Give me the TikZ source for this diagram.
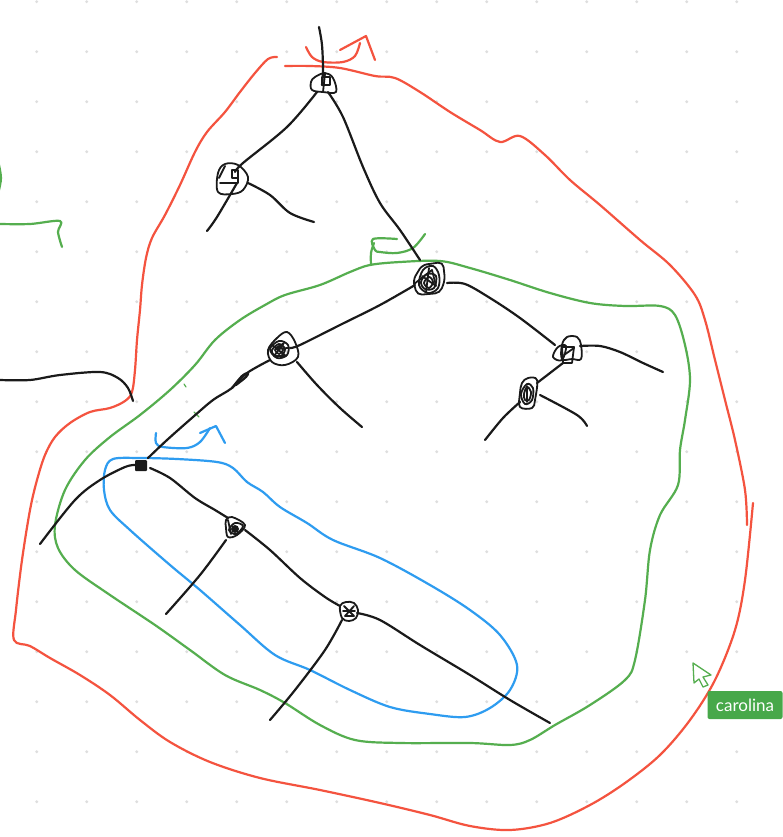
\documentclass[tikz,border=0pt]{standalone}
\usepackage{fontspec}
\setmainfont{Lato}
\definecolor{penred}{HTML}{F4533F}
\definecolor{pengreen}{HTML}{55AE4F}
\definecolor{penblue}{HTML}{2E9CF0}
\definecolor{penblack}{HTML}{1A1A1A}
\definecolor{griddot}{HTML}{DEDEDE}
\definecolor{tagbg}{HTML}{47A84A}
\tikzset{
  stroke/.style={line width=2.2pt,line cap=round,line join=round},
  ink/.style={stroke,draw=penblack},
  redpen/.style={stroke,draw=penred},
  greenpen/.style={stroke,draw=pengreen},
  bluepen/.style={stroke,draw=penblue},
  knot/.style={ink,line width=1.8pt},
  tag/.style={fill=tagbg,rounded corners=2pt,text=white,inner sep=0pt,minimum width=75pt,minimum height=28pt,font=\fontsize{17}{17}\selectfont},
}
\newcommand{\pen}[2]{\draw[#1] plot[smooth,tension=0.55] coordinates {#2};}
\newcommand{\loopc}[1]{\draw[knot] plot[smooth cycle,tension=0.6] coordinates {#1};}
\newcommand{\poly}[1]{\draw[knot] plot[sharp plot] coordinates {#1};}
\begin{document}
\begin{tikzpicture}[x=1pt,y=-1pt]
\useasboundingbox (0,0) rectangle (782,837);
\fill[white] (0,0) rectangle (782,837);
% dot grid
\foreach \i in {0,...,15}{\foreach \j in {0,...,16}{
  \fill[griddot] ({36.7+50*\i},{1.7+50*\j}) circle (1.6pt);
}}
% red outline
\pen{redpen}{(277,57)(268,59)(255,73)(240,92)(225,112)(207,132)(195,152)(180,185)(165,215)(152,238)(146,258)(142,285)(140,310)(137,340)(135,370)(132,392)(125,401)(110,408)(90,412)(70,423)(55,437)(45,455)(37,480)(30,510)(22,560)(16,610)(14,640)(30,646)(50,658)(80,675)(110,695)(140,720)(170,742)(210,762)(260,778)(320,790)(380,803)(430,815)(470,826)(510,830)(550,823)(590,805)(625,783)(660,755)(690,720)(715,680)(735,630)(745,580)(753,503)}
\pen{redpen}{(285,66)(310,66)(340,68)(375,76)(395,78)(420,92)(450,112)(480,130)(500,142)(520,136)(545,155)(570,180)(600,205)(640,240)(670,265)(695,295)(705,320)(715,360)(725,400)(735,440)(745,490)(747,525)}
\pen{redpen}{(306,47)(312,57)(323,62)(343,62)(355,56)(360,43)}
\draw[redpen] (340,50) -- (366,36) -- (375,60);
% green outline
\draw[greenpen] plot[smooth cycle,tension=0.55] coordinates {(370,265)(400,262)(440,261)(470,268)(510,280)(550,293)(590,303)(625,306)(660,306)(675,315)(685,345)(690,380)(685,420)(680,450)(678,485)(660,515)(650,550)(645,600)(635,660)(625,680)(590,705)(555,725)(530,740)(510,745)(470,743)(400,743)(355,740)(320,725)(285,703)(260,690)(225,675)(190,650)(155,625)(110,595)(75,570)(58,548)(55,525)(65,490)(85,460)(110,437)(140,415)(170,390)(195,365)(215,340)(240,320)(265,305)(285,295)(320,285)(350,272)};
\pen{greenpen}{(397,239)(373,239)(375,250)(380,252)(397,253)(413,248)(425,234)}
\pen{greenpen}{(374,243)(371,253)(371,265)}
\pen{greenpen}{(0,224)(30,224)(60,221)(58,232)(62,247)}
\pen{greenpen}{(-1,165)(1,178)(-1,190)}
\draw[greenpen,line width=1.2pt] (194,412) -- (199,417);
\draw[greenpen,line width=1.2pt] (184,384) -- (186,387);
% blue outline
\draw[bluepen] plot[smooth cycle,tension=0.55] coordinates {(113,459)(140,458)(177,459)(217,462)(233,468)(247,482)(263,492)(280,507)(307,523)(333,540)(380,558)(430,585)(470,610)(500,635)(517,665)(510,690)(490,708)(465,717)(430,714)(390,707)(350,690)(310,670)(275,655)(240,625)(200,590)(170,565)(130,530)(110,510)(104,490)(105,470)};
\pen{bluepen}{(156,433)(156,443)(163,447)(187,448)(200,442)(210,428)}
\draw[bluepen] (200,433) -- (216,426) -- (225,443);
% black branches
\pen{ink}{(319,27)(322,45)(323,70)(322,85)}
\pen{ink}{(317,92)(287,127)(243,163)(235,172)}
\pen{ink}{(237,183)(217,217)(207,231)}
\pen{ink}{(248,183)(270,195)(290,213)(314,222)}
\pen{ink}{(328,92)(343,117)(363,167)(380,203)(400,230)(420,260)}
\pen{ink}{(415,285)(380,305)(340,325)(300,345)(290,348)}
\pen{ink}{(447,283)(465,284)(490,298)(520,318)(555,345)}
\pen{ink}{(580,346)(600,346)(620,352)(643,363)(663,372)}
\pen{ink}{(563,363)(537,383)}
\pen{ink}{(520,402)(503,418)(485,440)}
\pen{ink}{(540,395)(577,415)(587,426)}
\pen{ink}{(297,362)(317,385)(340,408)(362,427)}
\pen{ink}{(270,360)(247,373)(232,388)(213,400)(193,417)(167,440)(148,458)}
\pen{ink}{(232,388)(242,376)(248,373)(246,377)(236,385)}
\pen{ink}{(40,544)(75,500)(100,480)(125,467)(135,465)}
\pen{ink}{(150,468)(170,478)(195,498)(215,510)(228,518)}
\pen{ink}{(245,530)(270,550)(300,578)(325,597)(340,606)}
\pen{ink}{(357,613)(380,620)(420,645)(470,675)(510,700)(550,723)}
\pen{ink}{(226,540)(200,575)(166,614)}
\pen{ink}{(342,620)(325,650)(295,690)(270,720)}
\pen{ink}{(0,380)(30,380)(60,375)(100,372)(118,378)(128,388)(133,401)}
% knot top
\loopc{(312,90)(311,82)(315,77)(325,73)(333,78)(336,92)(323,92)}
\poly{(322,77)(330,77)(330,85)(322,85)(322,77)}
\poly{(325,74)(323,92)}
% knot left
\loopc{(218,192)(218,173)(225,164)(238,165)(248,177)(243,190)(232,194)}
\poly{(220,183)(238,183)(238,170)(232,170)(232,178)(238,178)}
\poly{(225,166)(219,178)}
% knot large
\draw[knot,rounded corners=5pt] (413,280) -- (422,265) -- (443,262) -- (445,280) -- (440,293) -- (417,295) -- cycle;
\loopc{(419,285)(423,270)(433,266)(439,275)(438,288)(428,293)}
\loopc{(421,282)(427,274)(436,276)(434,288)(425,289)}
\loopc{(424,283)(429,277)(433,282)(429,288)}
\poly{(414,284)(432,270)(436,286)(422,276)}
\poly{(429,268)(426,292)}
% knot left 2
\loopc{(268,350)(277,338)(287,332)(295,342)(298,357)(285,365)(272,362)}
\loopc{(270,349)(279,341)(288,345)(287,355)(277,358)}
\loopc{(272,350)(279,344)(285,349)(281,356)(274,355)}
\loopc{(275,350)(279,346)(283,350)(279,354)}
\poly{(272,345)(286,356)(274,356)(284,343)(276,349)(288,348)}
% knot right
\loopc{(562,345)(567,337)(577,337)(581,345)(581,359)(572,359)(562,359)}
\loopc{(553,357)(558,347)(566,346)(562,360)}
\poly{(562,347)(574,347)(572,363)(563,363)(562,347)}
\poly{(564,355)(574,348)}
% knot low right
\loopc{(522,383)(528,378)(537,380)(535,400)(532,408)(520,407)(520,393)}
\loopc{(521,394)(527,384)(533,388)(532,400)(525,404)}
\loopc{(524,394)(527,387)(531,392)(529,400)(525,400)}
\poly{(527,386)(527,402)}
% small square knot
\fill[penblack,rounded corners=1pt] (135,460) rectangle (147,471);
% knot triangle
\loopc{(226,520)(232,517)(245,525)(237,535)(228,537)(226,528)}
\loopc{(229,530)(235,523)(243,526)(236,534)}
\fill[penblack] (235,529) circle (4pt);
\poly{(228,520)(231,534)}
% knot square 3
\loopc{(340,606)(346,602)(354,603)(358,610)(356,618)(349,621)(342,618)}
\poly{(344,606)(354,616)(345,616)(354,606)(349,612)}
\poly{(343,611)(355,611)}
% cursor
\draw[pengreen,line width=1.3pt,line join=round,fill=white] (693,663) -- (711,675) -- (703,677) -- (708,685) -- (703,687) -- (699,679) -- (694,683) -- cycle;
% label
\node[tag] (carolina) at (745,705) {carolina};
\end{tikzpicture}
\end{document}
